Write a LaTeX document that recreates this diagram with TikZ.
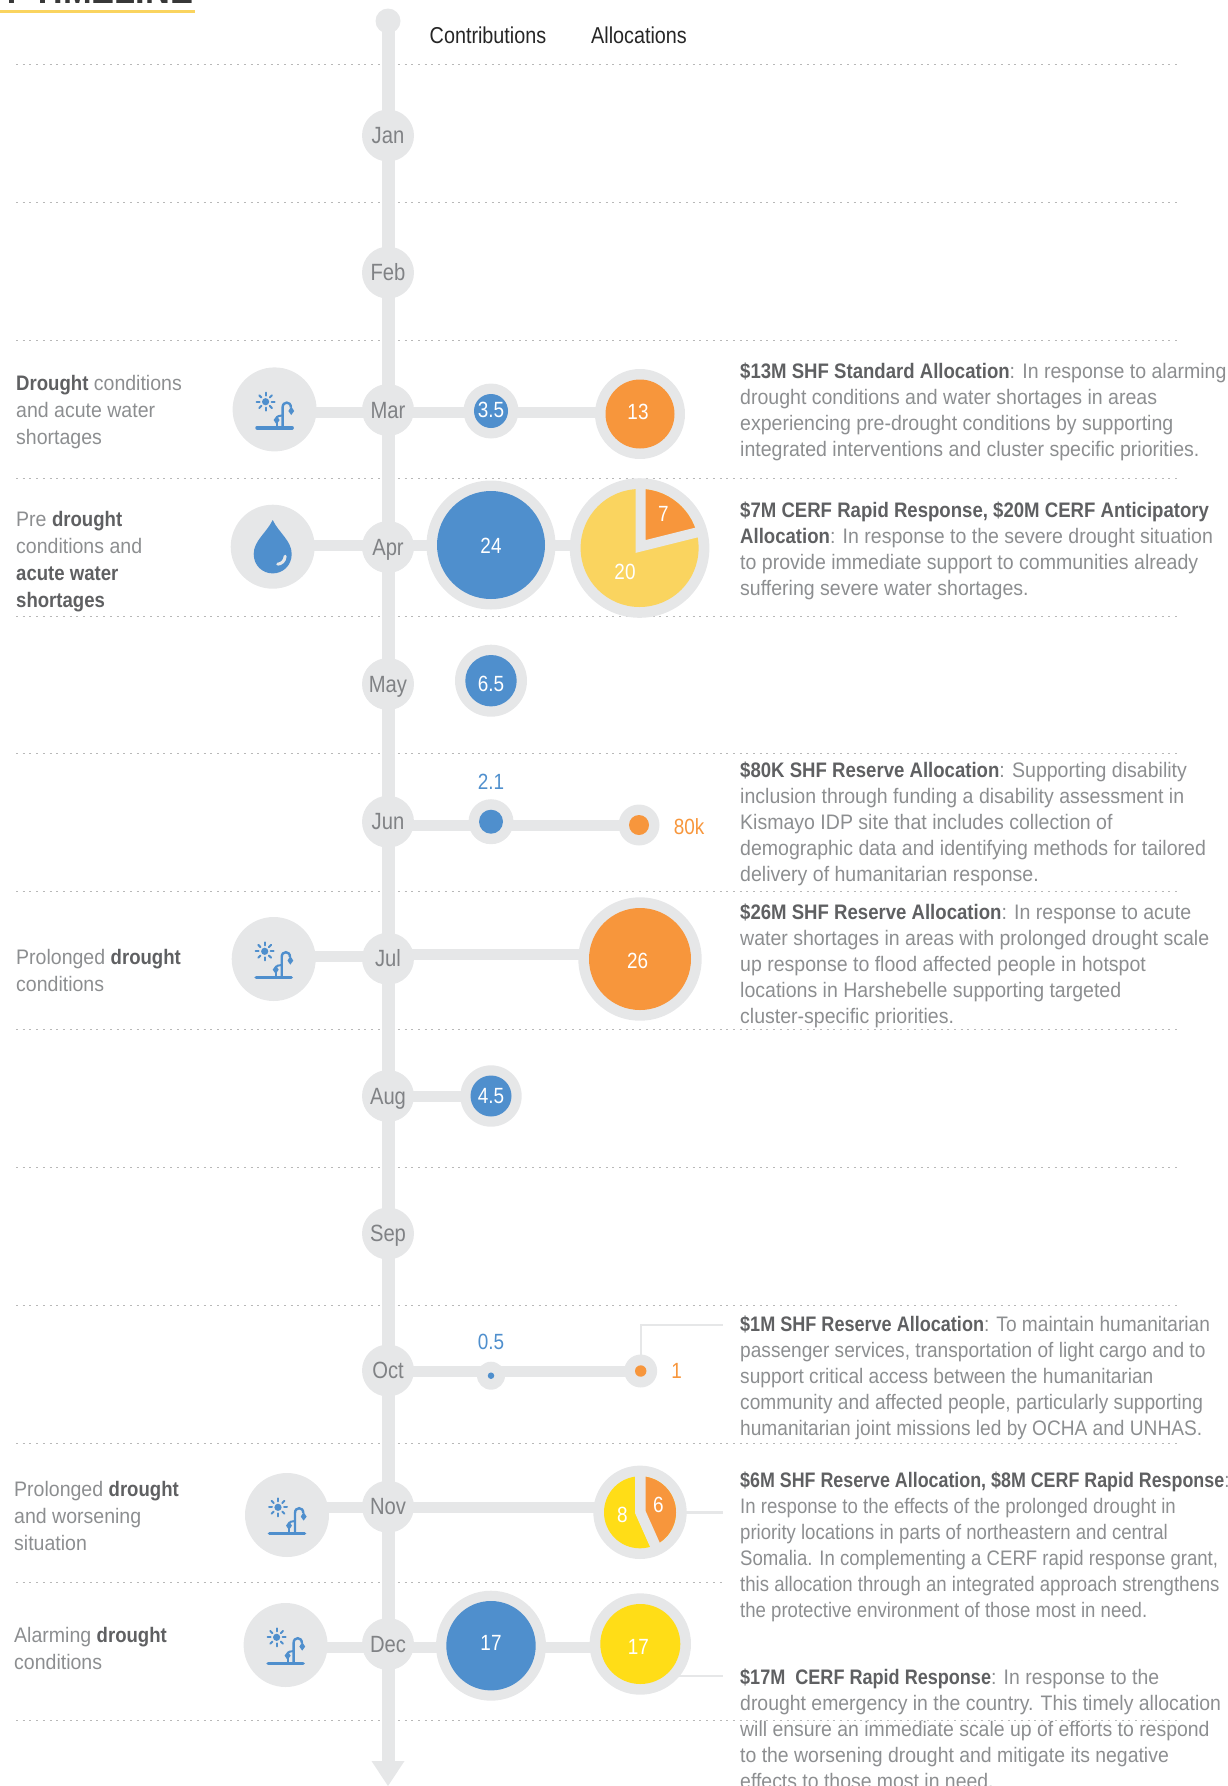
\documentclass[tikz,border=0pt]{standalone}
\usepackage{fontspec}
\setmainfont[UprightFeatures={FakeStretch=0.93},BoldFeatures={FakeStretch=0.885}]{Liberation Sans}
\newfontfamily\narrowf[FakeStretch=0.86]{Liberation Sans}
\newfontfamily\famOct[UprightFeatures={FakeStretch=0.91},BoldFeatures={FakeStretch=0.86}]{Liberation Sans}
\newfontfamily\famNov[UprightFeatures={FakeStretch=0.885},BoldFeatures={FakeStretch=0.85}]{Liberation Sans}
\newfontfamily\famDec[UprightFeatures={FakeStretch=0.925},BoldFeatures={FakeStretch=0.86}]{Liberation Sans}
\usetikzlibrary{calc}
\definecolor{gr}{HTML}{E6E7E8}
\definecolor{bl}{HTML}{4F8FCD}
\definecolor{orng}{HTML}{F7963C}
\definecolor{yl}{HTML}{FFDD17}
\definecolor{ylp}{HTML}{FAD45F}
\definecolor{tx}{HTML}{8C8E90}
\definecolor{dk}{HTML}{5F6062}
\definecolor{mo}{HTML}{808285}
\pgfdeclarelayer{bg}
\pgfsetlayers{bg,main}
\newcommand\hb[1]{{\color{dk}\bfseries #1}}
\newcommand\hl{\rule{0pt}{20pt}}
\tikzset{
  disc/.style={circle,fill=gr,inner sep=0,outer sep=0,minimum size=#1 pt},
  blob/.style 2 args={circle,fill=#1,inner sep=0,outer sep=0,minimum size=#2 pt},
  month/.style={circle,fill=gr,inner sep=0,outer sep=0,minimum size=52pt,text=mo,font=\narrowf\fontsize{23.5}{23.5}\selectfont,text height=16pt,text depth=0pt},
  val/.style={inner sep=0,text=white,font=\narrowf\fontsize{22}{22}\selectfont,text height=15.5pt,text depth=0pt},
  conn/.style={gr,line width=11pt},
  rail/.style={gr,line width=13pt},
  leader/.style={gr,line width=2.4pt},
  rowline/.style={draw=black!28,line width=0.8pt,dash pattern=on 2pt off 4.7pt},
  head/.style={inner sep=0,text=black!85,font=\narrowf\fontsize{23}{23}\selectfont,text height=16pt,text depth=0pt},
  leftnote/.style={anchor=north west,inner sep=0,align=left,text=tx,font=\fontsize{21}{27}\selectfont},
  rightnote/.style={anchor=north west,inner sep=0,align=left,text=tx,font=#1\fontsize{21}{26}\selectfont},
  rightnote/.default={\relax},
  pics/tapicon/.style={code={
    \fill[bl] (-9,-7.7) circle[radius=3.6pt];
    \foreach \a in {0,45,...,315}{\draw[bl,line width=2pt,line cap=round] ($(-9,-7.7)+(\a:6pt)$) -- ($(-9,-7.7)+(\a:9pt)$);}
    \draw[bl,line width=3.6pt,line cap=round] (-17.5,18.3) -- (17.5,18.3);
    \draw[bl,line width=2.4pt] (8,18) -- (8,-2) .. controls (8,-8.4) and (16.3,-8.4) .. (16.3,-2);
    \draw[bl,line width=2pt] (8,6) .. controls (5,6) and (2,6.5) .. (2,10);
    \draw[bl,line width=2pt] (2,12) -- (2,18);
    \fill[bl] (16.6,-3) -- (19.6,1.6) -- (16.6,5.6) -- (13.8,1.6) -- cycle;
    \fill[bl] (2,6.5) -- (5,10.6) -- (2,15) -- (-1,10.6) -- cycle;
  }},
  pics/dropicon/.style={code={
    \fill[bl] (0,-26.7) .. controls (-6,-14) and (-19,-6) .. (-19,7.3) .. controls (-19,19) and (-10,26.7) .. (0,26.7) .. controls (10,26.7) and (19,19) .. (19,7.3) .. controls (19,-6) and (6,-14) .. (0,-26.7) -- cycle;
    \draw[gr,line width=3pt,line cap=round] (12.5,9.5) .. controls (12,14.5) and (9,17) .. (5,17.5);
  }}
}
\begin{document}
\begin{tikzpicture}[x=1pt,y=-1pt]
\useasboundingbox (0,0) rectangle (1227,1786);
% title
\node[anchor=base east,inner sep=0,text=black!78,font=\narrowf\fontsize{40}{40}\selectfont\bfseries] (title) at (193.5,3.5) {Y TIMELINE};
\coordinate (ulA) at (0,11);
\coordinate (ulB) at (195,11);
\draw[ylp,line width=3pt] (ulA) -- (ulB);
% headers
\node[head] (hC) at (488,35.5) {Contributions};
\node[head] (hA) at (639,35.5) {Allocations};
% timeline nodes
\node[disc=25] (tlstart) at (388,21) {};
\foreach \n/\y in {Jan/135.5,Feb/272.6,Mar/410,Apr/547,May/684,Jun/821.7,Jul/958.7,Aug/1096,Sep/1233.5,Oct/1370.5,Nov/1506.7,Dec/1644}{
  \node[month] (m\n) at (388,\y) {\n};
}
\coordinate (tlend) at (388,1761);
\fill[gr] (tlend) ++(-16.5,0) -- ++(33,0) -- ++(-16.5,25) -- cycle;
% icon discs
\node[disc=84] (iMar) at (274.6,409.4) {};
\node[disc=84] (iApr) at (272.7,546.7) {};
\node[disc=84] (iJul) at (273.7,959) {};
\node[disc=84] (iNov) at (287,1515) {};
\node[disc=84] (iDec) at (285.6,1645) {};
\pic at (iMar.center) {tapicon};
\pic at (iApr.center) {dropicon};
\pic at (iJul.center) {tapicon};
\pic at (iNov.center) {tapicon};
\pic at (iDec.center) {tapicon};
% contribution bubbles
\node[disc=55] (cMar) at (491,411) {};
\node[blob={bl}{34}] (cMarIn) at (cMar.center) {};
\node[disc=129] (cApr) at (491,545) {};
\node[blob={bl}{108}] (cAprIn) at (cApr.center) {};
\node[disc=72] (cMay) at (491,680.7) {};
\node[blob={bl}{51.4}] (cMayIn) at (cMay.center) {};
\node[disc=45] (cJun) at (491,821.7) {};
\node[blob={bl}{24}] (cJunIn) at (cJun.center) {};
\node[disc=61.4] (cAug) at (491,1096) {};
\node[blob={bl}{41}] (cAugIn) at (cAug.center) {};
\node[disc=28] (cOct) at (491,1375.7) {};
\node[blob={bl}{6.5}] (cOctIn) at (cOct.center) {};
\node[disc=110] (cDec) at (491,1645.7) {};
\node[blob={bl}{89.4}] (cDecIn) at (cDec.center) {};
% allocation bubbles
\node[disc=90] (aMar) at (640,414) {};
\node[blob={orng}{69}] (aMarIn) at (aMar.center) {};
\node[disc=139.6] (aApr) at (639.6,548) {};
\node[blob={ylp}{118}] (aAprIn) at (aApr.center) {};
\begin{scope}
  \clip (aApr.center) circle[radius=59pt];
  \fill[orng] (640.5,546.5) -- (640.5,470) -- (720,470) -- (720,526.8) -- cycle;
\end{scope}
\coordinate (aprCut) at (640.5,546.5);
\draw[gr,line width=10pt,miter limit=4] (640.5,484) -- (aprCut) -- (702.5,531);
\node[disc=41] (aJun) at (639,825) {};
\node[blob={orng}{20}] (aJunIn) at (aJun.center) {};
\node[disc=123.4] (aJul) at (640,959) {};
\node[blob={orng}{102}] (aJulIn) at (aJul.center) {};
\node[disc=33] (aOct) at (640.7,1371) {};
\node[blob={orng}{11.4}] (aOctIn) at (aOct.center) {};
\node[disc=93.4] (aNov) at (640,1512.3) {};
\node[blob={yl}{72}] (aNovIn) at (aNov.center) {};
\begin{scope}
  \clip (aNov.center) circle[radius=36pt];
  \fill[orng] (640.3,1512) -- (640.3,1460) -- (700,1460) -- (700,1600) -- (679.4,1600) -- cycle;
\end{scope}
\coordinate (novCut) at (640.3,1512);
\draw[gr,line width=10.5pt,miter limit=4] (640.3,1471) -- (novCut) -- (657,1549.5);
\node[disc=101.4] (aDec) at (640.3,1644) {};
\node[blob={yl}{80}] (aDecIn) at (aDec.center) {};
% values
\node[val] (v35) at (491,410) {3.5};
\node[val] (v13) at (638,412) {13};
\node[val] (v24) at (491,546) {24};
\node[val] (v7) at (663.5,514) {7};
\node[val] (v20) at (625,571.4) {20};
\node[val] (v65) at (491,683.5) {6.5};
\node[val,text=bl] (v21) at (491,782) {2.1};
\node[val,text=orng] (v80k) at (689,826.7) {80k};
\node[val] (v26) at (637.7,960.7) {26};
\node[val] (v45) at (491,1095.5) {4.5};
\node[val,text=bl] (v05) at (491,1342) {0.5};
\node[val,text=orng] (v1) at (676.7,1371) {1};
\node[val] (v8) at (622.3,1514.3) {8};
\node[val] (v6) at (658.3,1504.3) {6};
\node[val] (v17a) at (491,1643) {17};
\node[val] (v17b) at (638.3,1646.7) {17};
% leader ends
\coordinate (ldOct) at (723,1325);
\coordinate (ldNov) at (723,1512.3);
\coordinate (ldDec) at (723,1676);
% left notes
\node[leftnote] (lMar) at (16,370) {\hl\hb{Drought} conditions\\and acute water\\shortages};
\node[leftnote] (lApr) at (16,506.5) {\hl Pre \hb{drought}\\conditions and\\\hb{acute water}\\\hb{shortages}};
\node[leftnote] (lJul) at (16,944.5) {\hl Prolonged \hb{drought}\\conditions};
\node[leftnote] (lNov) at (14,1476) {\hl Prolonged \hb{drought}\\and worsening\\situation};
\node[leftnote] (lDec) at (14,1622) {\hl Alarming \hb{drought}\\conditions};
% right notes
\node[rightnote] (rMar) at (740,358.6) {\hl\hb{\$13M SHF Standard Allocation}: In response to alarming\\drought conditions and water shortages in areas\\experiencing pre-drought conditions by supporting\\integrated interventions and cluster specific priorities.};
\node[rightnote] (rApr) at (740,497.5) {\hl\hb{\$7M CERF Rapid Response, \$20M CERF Anticipatory}\\\hb{Allocation}: In response to the severe drought situation\\to provide immediate support to communities already\\suffering severe water shortages.};
\node[rightnote] (rJun) at (740,756.8) {\hl\hb{\$80K SHF Reserve Allocation}: Supporting disability\\inclusion through funding a disability assessment in\\Kismayo IDP site that includes collection of\\demographic data and identifying methods for tailored\\delivery of humanitarian response.};
\node[rightnote] (rJul) at (740,899.5) {\hl\hb{\$26M SHF Reserve Allocation}: In response to acute\\water shortages in areas with prolonged drought scale\\up response to flood affected people in hotspot\\locations in Harshebelle supporting targeted\\cluster-specific priorities.};
\node[rightnote=\famOct] (rOct) at (740,1311.7) {\hl\hb{\$1M SHF Reserve Allocation}: To maintain humanitarian\\passenger services, transportation of light cargo and to\\support critical access between the humanitarian\\community and affected people, particularly supporting\\humanitarian joint missions led by OCHA and UNHAS.};
\node[rightnote=\famNov] (rNov) at (740,1467.7) {\hl\hb{\$6M SHF Reserve Allocation, \$8M CERF Rapid Response}:\\In response to the effects of the prolonged drought in\\priority locations in parts of northeastern and central\\Somalia. In complementing a CERF rapid response grant,\\this allocation through an integrated approach strengthens\\the protective environment of those most in need.};
\node[rightnote=\famDec] (rDec) at (740,1664) {\hl\hb{\$17M\ \ CERF Rapid Response}: In response to the\\drought emergency in the country. This timely allocation\\will ensure an immediate scale up of efforts to respond\\to the worsening drought and mitigate its negative\\effects to those most in need.};
% behind everything
\begin{pgfonlayer}{bg}
  \foreach \y in {64.5,202,340,478,616,753,891,1029,1167,1305,1443.5,1720}{
    \draw[rowline] (16,\y) -- (1179,\y);
  }
  \draw[rowline] (16,1582) -- (723,1582);
  \draw[rail] (tlstart.center) -- (mJan.center) -- (mFeb.center) -- (mMar.center) -- (mApr.center) -- (mMay.center) -- (mJun.center) -- (mJul.center) -- (mAug.center) -- (mSep.center) -- (mOct.center) -- (mNov.center) -- (mDec.center) -- (tlend);
  \draw[conn] (iMar |- 0,412) -- (aMar |- 0,412);
  \draw[conn] (iApr |- 0,545) -- (aApr |- 0,545);
  \draw[conn] (mJun |- 0,825) -- (aJun |- 0,825);
  \draw[conn] (iJul |- 0,956.7) -- (mJul |- 0,956.7);
  \draw[conn] (mJul |- 0,954) -- (aJul |- 0,954);
  \draw[conn] (mAug |- 0,1096) -- (cAug |- 0,1096);
  \draw[conn] (mOct |- 0,1371) -- (aOct |- 0,1371);
  \draw[conn] (iNov |- 0,1507.3) -- (aNov |- 0,1507.3);
  \draw[conn] (iDec |- 0,1647.5) -- (aDec |- 0,1647.5);
  \draw[leader] (aOct.center) |- (ldOct);
  \draw[leader] (aNov.center) -- (ldNov);
  \draw[leader] (aDec.center |- ldDec) -- (ldDec);
\end{pgfonlayer}
\end{tikzpicture}
\end{document}
